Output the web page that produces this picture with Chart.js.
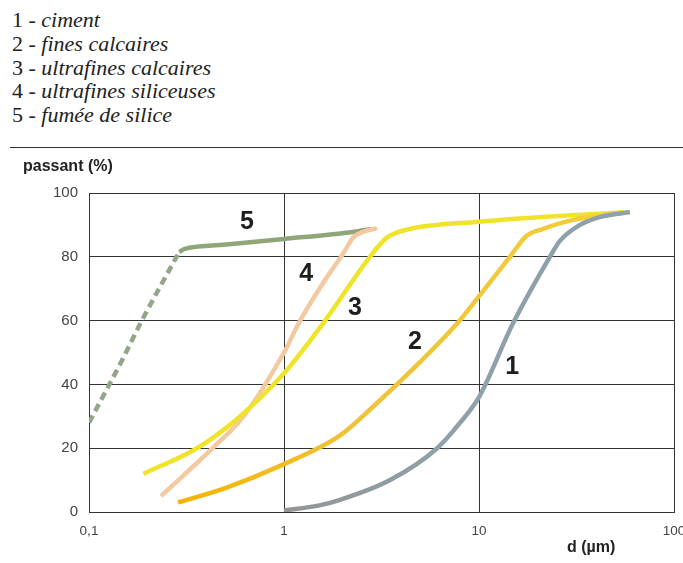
<!DOCTYPE html>
<html>
<head>
<meta charset="utf-8">
<script src="https://cdn.jsdelivr.net/npm/chart.js@4"></script>
<style>
    html, body { margin: 0; padding: 0; background: #fff; }
    body { width: 683px; height: 563px; position: relative; overflow: hidden; }
    .legend { position: absolute; left: 12px; top: 8px; font-family: 'Liberation Serif', serif; font-size: 22px; line-height: 23.75px; color: #222; }
    .legend i { font-style: italic; }
    .rule { position: absolute; left: 10px; right: 0; top: 147px; border-top: 1.5px solid #333; }
    .ytitle { position: absolute; left: 23px; top: 158px; font: bold 16px/16px 'Liberation Sans', Arial, sans-serif; color: #222; }
    .xtitle { position: absolute; left: 567px; top: 539px; font: bold 16px/16px 'Liberation Sans', Arial, sans-serif; color: #222; }
    #wrap { position: absolute; left: 0; top: 0; width: 683px; height: 563px; }
</style>
</head>
<body>
<div class="legend">
    <div>1 - <i>ciment</i></div>
    <div>2 - <i>fines calcaires</i></div>
    <div>3 - <i>ultrafines calcaires</i></div>
    <div>4 - <i>ultrafines siliceuses</i></div>
    <div>5 - <i>fumée de silice</i></div>
</div>
<div class="rule"></div>
<div id="wrap"><canvas id="chart"></canvas></div>
<div class="ytitle">passant (%)</div>
<div class="xtitle">d (µm)</div>

<script>
// tick values on the log axis
const xTicks = [0.1, 1, 10, 100];
const xTickLabels = ['0,1', '1', '10', '100'];

// 1 - ciment
const cimentD = [1, 1.5, 1.94, 3.5, 6.1, 8.0, 10, 14.9, 23.1, 26, 33, 42, 59.4];
const cimentP = [0.5, 2, 3.8, 10, 20, 28, 36, 59, 80, 85, 90, 92.5, 94];

// 2 - fines calcaires
const finesD = [0.286, 0.5, 1, 1.94, 2.86, 4.98, 7.7, 10.1, 14.4, 17.5, 21, 30, 59.4];
const finesP = [3, 7.5, 15, 24, 33, 47, 59, 68, 80, 86.5, 88.6, 91.5, 94];

// 3 - ultrafines calcaires
const ultraCalcD = [0.19, 0.358, 0.57, 1, 1.58, 2.76, 3.37, 4.27, 10, 55];
const ultraCalcP = [12, 20, 29, 43.5, 59, 80, 86, 88.5, 91, 94];

// 4 - ultrafines siliceuses
const ultraSilD = [0.234, 0.43, 0.62, 1, 1.21, 1.72, 2.01, 2.26, 2.54, 3.0];
const ultraSilP = [5, 20, 30, 50, 60, 75, 81, 86, 87.8, 89];

// 5 - fumée de silice (dashed part, then solid part)
const fumeeDashD = [0.1, 0.149, 0.183, 0.29];
const fumeeDashP = [28, 48, 59, 81.5];
const fumeeD = [0.29, 0.31, 0.47, 1, 2.26, 2.8];
const fumeeP = [81.5, 82.5, 83.7, 85.6, 87.8, 88.7];

// curve numbers written on the plot
const curveLabels = ['1', '2', '3', '4', '5'];
const curveLabelD = [14.8, 4.7, 2.31, 1.3, 0.645];
const curveLabelP = [45.5, 53.3, 63.9, 74.6, 90.9];

const pts = (ds, ps) => ds.map((d, i) => ({ x: d, y: ps[i] }));

const gradient = (stops) => (ctx) => {
    const area = ctx.chart.chartArea;
    if (!area) return stops[stops.length - 1][1];
    const g = ctx.chart.ctx.createLinearGradient(area.left, 0, area.right, 0);
    stops.forEach(s => g.addColorStop(s[0], s[1]));
    return g;
};

const lineStyle = {
    borderWidth: 4.5,
    pointRadius: 0,
    fill: false,
    cubicInterpolationMode: 'monotone',
    borderCapStyle: 'butt',
};

const curveNumbers = {
    id: 'curveNumbers',
    afterDatasetsDraw(chart) {
        const { ctx, scales } = chart;
        ctx.save();
        ctx.font = 'bold 25px "Liberation Sans Narrow", "Liberation Sans", Arial, sans-serif';
        ctx.fillStyle = '#1e1e1e';
        ctx.textAlign = 'center';
        ctx.textBaseline = 'middle';
        curveLabels.forEach((t, i) => {
            ctx.fillText(t, scales.x.getPixelForValue(curveLabelD[i]), scales.y.getPixelForValue(curveLabelP[i]));
        });
        ctx.restore();
    }
};

const ctx = document.getElementById('chart').getContext('2d');
new Chart(ctx, {
    type: 'line',
    data: {
        datasets: [
            { ...lineStyle, label: '1', data: pts(cimentD, cimentP),
              borderColor: gradient([[0.33, '#949494'], [0.6, '#8fa0a8'], [1, '#8ca2ad']]) },
            { ...lineStyle, label: '2', data: pts(finesD, finesP),
              borderColor: gradient([[0.15, '#f5b300'], [0.45, '#f0c23a'], [0.9, '#f2cf3a']]) },
            { ...lineStyle, label: '3', data: pts(ultraCalcD, ultraCalcP), borderColor: '#efe42a' },
            { ...lineStyle, label: '4', data: pts(ultraSilD, ultraSilP), borderColor: '#f3c9a1' },
            { ...lineStyle, label: '5', data: pts(fumeeD, fumeeP), borderColor: '#8fa678' },
            { ...lineStyle, label: '5b', data: pts(fumeeDashD, fumeeDashP), borderColor: '#93a68a', borderDash: [8, 5] },
        ]
    },
    options: {
        responsive: true,
        maintainAspectRatio: false,
        animation: false,
        layout: { padding: { top: 193, right: 9, bottom: 0, left: 0 } },
        plugins: { legend: { display: false }, tooltip: { enabled: false } },
        scales: {
            x: {
                type: 'logarithmic',
                min: 0.1,
                max: 100,
                afterBuildTicks: (scale) => { scale.ticks = xTicks.map(v => ({ value: v })); },
                afterFit: (scale) => { scale.height = 51; scale.paddingLeft = 0; scale.paddingRight = 0; },
                ticks: {
                    autoSkip: false,
                    maxRotation: 0,
                    padding: 11,
                    color: '#444',
                    font: { family: "'Liberation Sans', Arial, sans-serif", size: 13.5 },
                    callback: (v) => xTickLabels[xTicks.indexOf(v)] ?? ''
                },
                grid: { color: '#333', lineWidth: 1, drawTicks: false },
                border: { color: '#333', width: 1 }
            },
            y: {
                min: 0,
                max: 100,
                afterFit: (scale) => { scale.width = 89; },
                ticks: {
                    stepSize: 20,
                    padding: 11,
                    color: '#444',
                    font: { family: "'Liberation Sans', Arial, sans-serif", size: 15 }
                },
                grid: { color: '#333', lineWidth: 1, drawTicks: false },
                border: { color: '#333', width: 1 }
            }
        }
    },
    plugins: [curveNumbers]
});
</script>
</body>
</html>
